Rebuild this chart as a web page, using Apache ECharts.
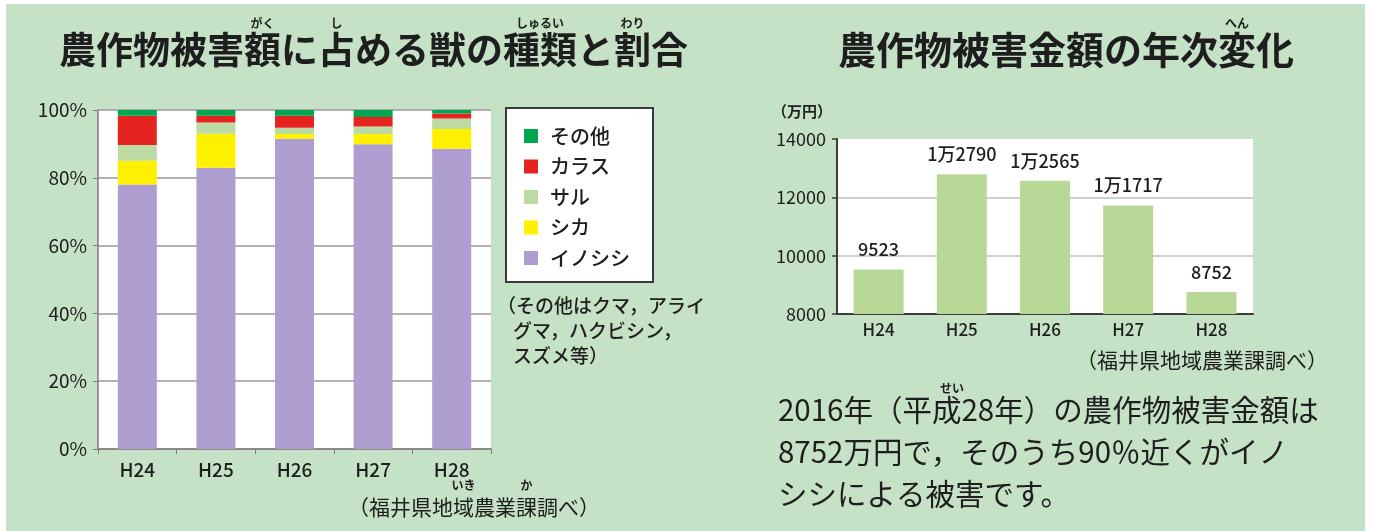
<!DOCTYPE html>
<html>
<head>
<meta charset="utf-8">
<script src="https://cdn.jsdelivr.net/npm/echarts@6.0.0/dist/echarts.min.js"></script>
<style>
  html, body { margin: 0; padding: 0; background: #ffffff; }
  #chart { width: 1373px; height: 531px; }
</style>
</head>
<body>
<div id="chart"></div>
<script>
// Fiscal years (Heisei)
const years = ['H24', 'H25', 'H26', 'H27', 'H28'];

// Share of crop damage by animal (%)
const inoshishi = [78.0, 83.0, 91.5, 89.9, 88.6];
const shika     = [7.0, 10.0, 1.4, 3.0, 5.8];
const saru      = [4.7, 3.3, 1.9, 2.2, 3.1];
const karasu    = [8.6, 2.0, 3.5, 2.8, 1.5];
const sonota    = [1.7, 1.7, 1.7, 2.1, 1.0];

// Crop damage amount (10,000 yen)
const damage = [9523, 12790, 12565, 11717, 8752];

// Axis settings
const shareTicks = { min: 0, max: 100, interval: 20 };
const damageTicks = { min: 8000, max: 14000, interval: 2000 };

const legendOrder = ['その他', 'カラス', 'サル', 'シカ', 'イノシシ'];

const JP = '"Noto Sans CJK JP", "Noto Sans", sans-serif';
const INK = '#1e1e1e';

// Amounts of 10,000 or more are written as "1万2790"
function manYen(v) {
  if (v < 10000) return String(v);
  return Math.floor(v / 10000) + '万' + String(v % 10000).padStart(4, '0');
}

function txt(text, x, y, size, opts) {
  opts = opts || {};
  return {
    type: 'text',
    z: 10,
    style: {
      text: text,
      x: x,
      y: y,
      font: (opts.weight || 'normal') + ' ' + size + 'px ' + JP,
      fill: opts.color || INK,
      textAlign: opts.align || 'left',
      textVerticalAlign: 'middle'
    }
  };
}

// Reading aid (furigana) centred over a run of characters
function ruby(text, cx, y) {
  return txt(text, cx, y, 12, { align: 'center', weight: 'bold' });
}

const chart = echarts.init(document.getElementById('chart'), null, { renderer: 'canvas' });

const stackSeries = [
  { name: 'イノシシ', data: inoshishi, color: '#ad9ecf' },
  { name: 'シカ',     data: shika,     color: '#fff000' },
  { name: 'サル',     data: saru,      color: '#bcdba3' },
  { name: 'カラス',   data: karasu,    color: '#e5231f' },
  { name: 'その他',   data: sonota,    color: '#00a650' }
].map(s => ({
  name: s.name,
  type: 'bar',
  stack: 'share',
  xAxisIndex: 0,
  yAxisIndex: 0,
  barWidth: 39,
  data: s.data,
  itemStyle: { color: s.color },
  emphasis: { disabled: true }
}));

const option = {
  animation: false,
  backgroundColor: '#ffffff',
  graphic: [
    // green page panel
    { type: 'rect', z: -10, shape: { x: 6, y: 4, width: 1359, height: 530 }, style: { fill: '#c5e1c6' } },

    // left heading
    txt('農作物被害額に占める獣の種類と割合', 59, 50, 37, { weight: 'bold' }),
    ruby('がく', 59 + 5.5 * 37, 23),
    ruby('し', 59 + 7.5 * 37, 23),
    ruby('しゅるい', 59 + 13 * 37, 23),
    ruby('わり', 59 + 15.5 * 37, 23),

    // right heading
    txt('農作物被害金額の年次変化', 838, 50, 38, { weight: 'bold' }),
    ruby('へん', 838 + 10.5 * 38, 23),

    // note under the legend
    txt('（その他はクマ，アライ', 497, 306, 19, { weight: '500' }),
    txt('グマ，ハクビシン，', 513, 331, 19, { weight: '500' }),
    txt('スズメ等）', 513, 356, 19, { weight: '500' }),

    // sources
    txt('（福井県地域農業課調べ）', 348, 507, 21),
    ruby('いき', 348 + 5.5 * 21, 485),
    ruby('か', 348 + 8.5 * 21, 485),
    txt('（福井県地域農業課調べ）', 1076, 360, 21),

    // unit of the amount axis
    txt('（万円）', 772, 111, 15, { weight: 'bold' }),

    // commentary
    txt('2016年（平成28年）の農作物被害金額は', 778, 410, 29.5),
    ruby('せい', 952, 388),
    txt('8752万円で，そのうち90％近くがイノ', 778, 452, 29.5),
    txt('シシによる被害です。', 778, 494, 29.5)
  ],
  legend: {
    data: legendOrder,
    orient: 'vertical',
    left: 506,
    top: 108,
    backgroundColor: '#ffffff',
    borderColor: '#3a3a3a',
    borderWidth: 2,
    padding: [18, 23, 14, 18],
    itemWidth: 14,
    itemHeight: 14,
    itemGap: 10.5,
    icon: 'rect',
    selectedMode: false,
    textStyle: {
      fontFamily: JP,
      fontSize: 20,
      fontWeight: 500,
      color: INK,
      padding: [0, 0, 0, 7]
    }
  },
  grid: [
    { left: 98, top: 110, width: 393, height: 339, show: true, backgroundColor: '#ffffff', borderWidth: 0 },
    { left: 837, top: 139, width: 416, height: 175, show: true, backgroundColor: '#ffffff', borderWidth: 0 }
  ],
  xAxis: [
    {
      type: 'category',
      gridIndex: 0,
      data: years,
      axisLine: { lineStyle: { color: '#7d7d7d', width: 1.5 } },
      axisTick: { show: true, length: 5, lineStyle: { color: '#7d7d7d' } },
      axisLabel: { margin: 11, fontFamily: JP, fontSize: 19, fontWeight: 500, color: INK }
    },
    {
      type: 'category',
      gridIndex: 1,
      data: years,
      axisLine: { lineStyle: { color: '#3c3c3c', width: 2 } },
      axisTick: { show: false },
      axisLabel: { margin: 7, fontFamily: JP, fontSize: 17, fontWeight: 500, color: INK }
    }
  ],
  yAxis: [
    {
      type: 'value',
      gridIndex: 0,
      min: shareTicks.min,
      max: shareTicks.max,
      interval: shareTicks.interval,
      axisLine: { show: true, lineStyle: { color: '#7d7d7d', width: 1.5 } },
      axisTick: { show: true, length: 5, lineStyle: { color: '#7d7d7d' } },
      splitLine: { show: true, lineStyle: { color: '#9a9a9a', width: 1.5 } },
      axisLabel: { margin: 11, fontFamily: JP, fontSize: 19, color: INK, formatter: '{value}%' }
    },
    {
      type: 'value',
      gridIndex: 1,
      min: damageTicks.min,
      max: damageTicks.max,
      interval: damageTicks.interval,
      axisLine: { show: true, lineStyle: { color: '#3c3c3c', width: 2 } },
      axisTick: { show: true, length: 5, lineStyle: { color: '#3c3c3c', width: 1.5 } },
      splitLine: { show: true, lineStyle: { color: ['transparent', '#cfcfcf', '#cfcfcf', 'transparent'], width: 2 } },
      axisLabel: { margin: 11, fontFamily: JP, fontSize: 18, color: INK, formatter: v => String(v) }
    }
  ],
  series: stackSeries.concat([
    {
      name: '被害金額',
      type: 'bar',
      xAxisIndex: 1,
      yAxisIndex: 1,
      barWidth: 50,
      data: damage,
      itemStyle: { color: '#b8d898' },
      emphasis: { disabled: true },
      label: {
        show: true,
        position: 'top',
        distance: 11,
        fontFamily: JP,
        fontSize: 18,
        fontWeight: 500,
        color: INK,
        formatter: p => manYen(p.value)
      }
    }
  ])
};

chart.setOption(option);
</script>
</body>
</html>
